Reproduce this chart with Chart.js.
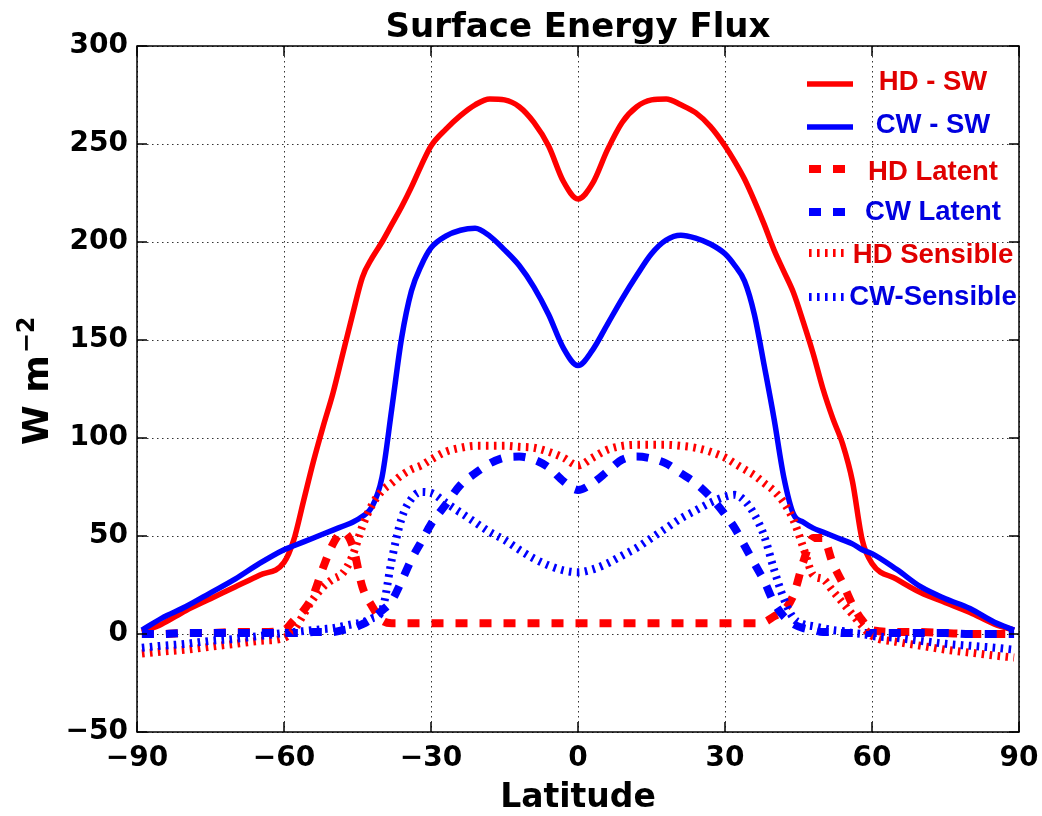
<!DOCTYPE html>
<html>
<head>
<meta charset="utf-8">
<script src="https://cdn.jsdelivr.net/npm/chart.js@4/dist/chart.umd.min.js"></script>
<style>
  html, body { margin: 0; padding: 0; background: #fff; }
  #wrap { width: 1042px; height: 816px; }
</style>
</head>
<body>
<div id="wrap"><canvas id="chart" width="1042" height="816"></canvas></div>
<script>
const lats = [-89, -85, -80, -75, -70, -65, -60,
  -58, -56, -54, -52, -50, -48, -46, -44, -42, -40, -38, -36, -34, -32, -30,
  -27, -24, -21, -18, -15, -12, -9, -6, -3,
  0,
  3, 6, 9, 12, 15, 18, 21, 24, 27,
  30, 32, 34, 36, 38, 40, 42, 44, 46, 48, 50, 52, 54, 56, 58,
  60, 65, 70, 75, 80, 85, 89]

const hdSW = [1, 5, 12, 18, 24, 30, 36.5,
  48, 68, 88, 106, 123, 143, 163, 182, 192, 200, 209, 218, 228, 239, 249,
  257.5, 264.5, 270, 273, 272.5, 269, 261, 249, 231,
  222,
  230, 247, 261, 269, 272.5, 273, 270, 266, 259,
  249, 241, 232, 221, 209, 196, 185, 174, 159, 143, 125, 110, 97, 78, 48,
  36, 28, 21, 16, 11, 5, 2]

const cwSW = [2, 8, 14, 21, 28, 36, 43,
  45, 47, 49, 51, 53, 55, 57, 60, 65, 80, 115, 151, 175, 188, 197,
  203, 206, 207, 203, 196, 188, 177, 163, 146,
  137,
  145, 158, 171, 183, 194, 201, 203.5, 202, 199,
  194, 188, 180, 163, 137, 110, 80, 61, 57, 54, 52, 50, 48, 46, 43,
  41, 33, 24, 18, 13, 6, 2]

const hdLatent = [0, 0, 0.5, 0.5, 1, 1, 2,
  7, 12, 20, 34, 46, 52, 45, 24, 14, 7, 5.5, 5.5, 5.5, 5.5, 5.5,
  5.5, 5.5, 5.5, 5.5, 5.5, 5.5, 5.5, 5.5, 5.5,
  5.5,
  5.5, 5.5, 5.5, 5.5, 5.5, 5.5, 5.5, 5.5, 5.5,
  5.5, 5.5, 5.5, 5.5, 6, 9, 12, 20, 37, 49, 49, 36, 26, 15, 7,
  2, 1, 1, 0.5, 0, 0, 0]

const cwLatent = [0, 0, 0.5, 0.5, 0.5, 0.5, 0.5,
  0.5, 0.5, 1, 1, 1, 2, 3, 5, 8, 12, 17, 27, 38, 47, 56,
  66, 76, 82, 87, 90, 90.5, 89, 85, 78,
  73.5,
  77, 83, 89, 90.5, 89.5, 87, 82, 77, 70,
  61, 54, 45, 36, 27, 16, 9, 5, 3, 2, 1, 1, 0.5, 0.5, 0.5,
  0.5, 0.5, 0.5, 0.5, 0, 0, 0]

const hdSensible = [-10, -9, -8, -6.5, -5, -3.5, -2,
  2, 10, 18, 24, 28, 31, 40, 55, 66, 73, 77, 81, 84, 86, 89,
  93, 95, 96, 96, 96, 95.5, 95, 93, 90,
  86,
  90, 94, 96, 96.5, 96.5, 96.5, 96, 95, 93,
  90, 87, 84, 81, 77, 73, 67, 58, 44, 30, 28, 22, 16, 10, 4,
  -1, -4, -6, -8, -9.5, -11, -12]

const cwSensible = [-7, -6, -5, -3.5, -2.5, -1, 0.5,
  1, 1.5, 2, 2.5, 3, 4, 5, 6, 8, 12, 38, 59, 69, 72.5, 72,
  67, 62, 57, 52, 48, 43, 38.5, 35, 32.5,
  31.5,
  33, 36, 40, 44, 49, 54, 59, 63, 67,
  70, 71, 68, 61, 50, 33, 18, 8, 5, 4, 3, 2, 1.5, 0.5, 0,
  -1, -2, -3.5, -5, -6, -7, -8]

const seriesNames = ["HD - SW", "CW - SW", "HD Latent", "CW Latent", "HD Sensible", "CW-Sensible"]
const xTicks = [-90, -60, -30, 0, 30, 60, 90]
const yTicks = [-50, 0, 50, 100, 150, 200, 250, 300]

const RED = "#ff0000"
const BLUE = "#0000ff"
const FONT = "'DejaVu Sans', sans-serif"

const pts = arr => lats.map((x, i) => ({ x, y: arr[i] }))
const fmt = v => v < 0 ? "\u2212" + Math.abs(v) : String(v)

const styles = {
  solid:    { borderWidth: 5.5, borderDash: [] },
  latent:   { borderWidth: 8,   borderDash: [12, 12] },
  sensible: { borderWidth: 8,   borderDash: [2.6, 5.4] }
}

function makeSet(i, arr, color, kind) {
  return {
    label: seriesNames[i],
    data: pts(arr),
    borderColor: color,
    backgroundColor: color,
    borderWidth: styles[kind].borderWidth,
    borderDash: styles[kind].borderDash,
    borderCapStyle: "butt",
    borderJoinStyle: "round",
    pointRadius: 0,
    cubicInterpolationMode: "monotone",
    fill: false,
    order: 6 - i   // later series on top, as in the original
  }
}

// title, frame, inward ticks, axis labels and the legend
const decorations = {
  id: "decorations",
  afterDatasetsDraw(chart) {
    const { ctx, chartArea: a, scales } = chart
    ctx.save()
    ctx.strokeStyle = "#000"
    ctx.lineWidth = 1.5
    ctx.setLineDash([])
    ctx.strokeRect(a.left, a.top, a.right - a.left, a.bottom - a.top)
    ctx.beginPath()
    yTicks.forEach(v => {
      const y = scales.y.getPixelForValue(v)
      ctx.moveTo(a.left, y); ctx.lineTo(a.left + 10, y)
      ctx.moveTo(a.right, y); ctx.lineTo(a.right - 10, y)
    })
    xTicks.forEach(v => {
      const x = scales.x.getPixelForValue(v)
      ctx.moveTo(x, a.bottom); ctx.lineTo(x, a.bottom - 10)
      ctx.moveTo(x, a.top); ctx.lineTo(x, a.top + 10)
    })
    ctx.stroke()
    ctx.restore()
  },
  afterDraw(chart) {
    const { ctx, chartArea: a } = chart
    const midX = (a.left + a.right) / 2

    ctx.save()
    ctx.fillStyle = "#000"
    ctx.textAlign = "center"
    ctx.textBaseline = "alphabetic"
    ctx.font = "bold 34px " + FONT
    ctx.fillText("Surface Energy Flux", midX, 37)
    ctx.font = "bold 33px " + FONT
    ctx.fillText("Latitude", midX, 807)
    ctx.restore()

    // y axis label with superscript
    ctx.save()
    ctx.fillStyle = "#000"
    ctx.translate(48, 445)
    ctx.rotate(-Math.PI / 2)
    ctx.textAlign = "left"
    ctx.textBaseline = "alphabetic"
    ctx.font = "bold 36px " + FONT
    ctx.fillText("W m", 0, 0)
    const w = ctx.measureText("W m").width
    ctx.font = "bold 24px " + FONT
    ctx.fillText("\u22122", w + 2, -14)
    ctx.restore()

    // legend
    const rows = [
      { y: 84,  base: 90 },
      { y: 127, base: 133 },
      { y: 169, base: 180 },
      { y: 212, base: 220 },
      { y: 253, base: 263 },
      { y: 297, base: 305 }
    ]
    ctx.save()
    chart.data.datasets.forEach((ds, i) => {
      const r = rows[i]
      ctx.strokeStyle = ds.borderColor
      ctx.lineWidth = ds.borderWidth
      ctx.lineCap = "butt"
      ctx.setLineDash(ds.borderDash)
      ctx.beginPath()
      if (ds.borderDash.length === 0) {
        ctx.moveTo(807, r.y); ctx.lineTo(853, r.y)
      } else {
        ctx.moveTo(809, r.y); ctx.lineTo(845, r.y)
      }
      ctx.stroke()
      ctx.setLineDash([])
      ctx.fillStyle = ds.borderColor === RED ? "#e00000" : "#0000e0"
      ctx.font = "bold 27.5px 'Liberation Sans', Arial, sans-serif"
      ctx.textAlign = "center"
      ctx.textBaseline = "alphabetic"
      ctx.fillText(ds.label, 933, r.base)
    })
    ctx.restore()
  }
}

new Chart(document.getElementById("chart"), {
  type: "line",
  data: {
    datasets: [
      makeSet(0, hdSW, RED, "solid"),
      makeSet(1, cwSW, BLUE, "solid"),
      makeSet(2, hdLatent, RED, "latent"),
      makeSet(3, cwLatent, BLUE, "latent"),
      makeSet(4, hdSensible, RED, "sensible"),
      makeSet(5, cwSensible, BLUE, "sensible")
    ]
  },
  options: {
    responsive: false,
    animation: false,
    layout: { padding: { left: 0, right: 23, top: 46, bottom: 0 } },
    plugins: {
      legend: { display: false },
      tooltip: { enabled: false },
      title: { display: false }
    },
    scales: {
      x: {
        type: "linear",
        min: -90,
        max: 90,
        afterFit: s => { s.height = 84; s.paddingLeft = 0; s.paddingRight = 0 },
        afterBuildTicks: s => { s.ticks = xTicks.map(v => ({ value: v })) },
        ticks: {
          color: "#000",
          padding: 10,
          maxRotation: 0,
          font: { family: FONT, size: 28, weight: "bold" },
          callback: v => fmt(v)
        },
        grid: { color: "#333", lineWidth: 1, drawTicks: false },
        border: { display: false, dash: [1.5, 3.5] }
      },
      y: {
        type: "linear",
        min: -50,
        max: 300,
        afterFit: s => { s.width = 137; s.paddingTop = 0; s.paddingBottom = 0 },
        afterBuildTicks: s => { s.ticks = yTicks.map(v => ({ value: v })) },
        ticks: {
          color: "#000",
          padding: 9,
          font: { family: FONT, size: 28, weight: "bold" },
          callback: v => fmt(v)
        },
        grid: { color: "#333", lineWidth: 1, drawTicks: false },
        border: { display: false, dash: [1.5, 3.5] }
      }
    }
  },
  plugins: [decorations]
})
</script>
</body>
</html>
